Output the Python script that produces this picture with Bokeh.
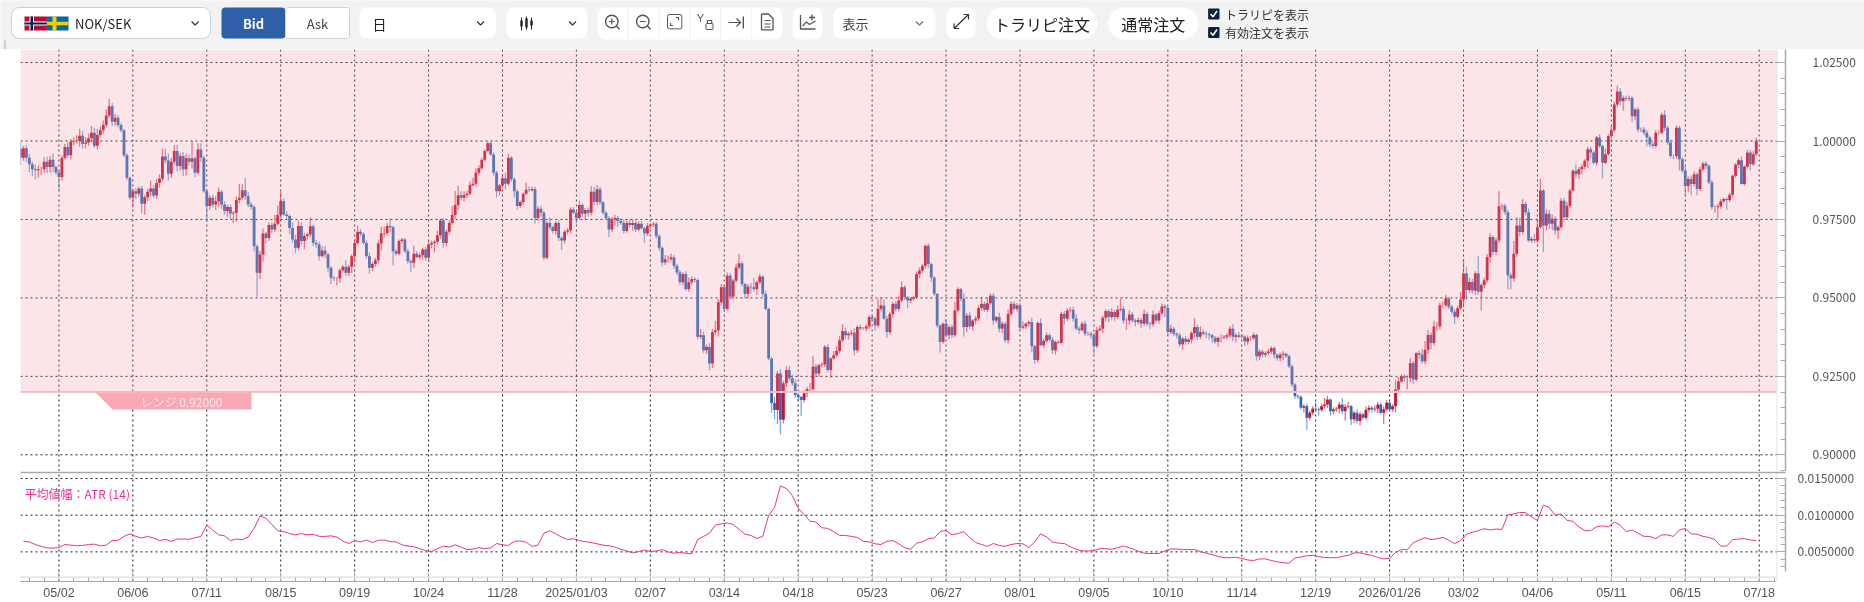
from bokeh.plotting import figure
from bokeh.layouts import column
from bokeh.models import (Range1d, LinearAxis, FixedTicker, BoxAnnotation, PolyAnnotation, Label,
                          NumeralTickFormatter, ColumnDataSource)
from bokeh.core.properties import value
from bokeh.embed import file_html
from bokeh.resources import INLINE

# ---------- data (prices in 1e-4 units, ATR in 1e-5 units); rows are gridline to gridline
first_open = 9975
close_rows = [
 [9947,9977,9947,9926,9910,9907,9910,9910,9934,9917,9940,9917,9900],
 [9885,9947,9981,9955,9998,10000,10000,10017,9991,9995,10009,10026,9985,10019,10034,10051,10081,10111,10061,10074,10051,10034,9955,9883,9819],
 [9840,9832,9849,9800,9821,9838,9849,9826,9866,9880,9951,9938,9896,9934,9968,9920,9952,9910,9945,9934,9945,9899,9973,9947,9840],
 [9793,9819,9798,9808,9838,9798,9777,9790,9769,9771,9812,9819,9843,9824,9798,9790,9665,9580,9638,9705,9691,9732,9718,9736,9764],
 [9808,9766,9761,9723,9686,9660,9729,9681,9697,9702,9728,9675,9670,9633,9651,9638,9596,9564,9562,9562,9588,9599,9580,9599,9633],
 [9675,9711,9704,9675,9633,9596,9608,9620,9673,9705,9707,9729,9725,9649,9641,9681,9686,9649,9617,9612,9641,9630,9636,9654,9628],
 [9670,9675,9679,9700,9747,9675,9711,9739,9764,9796,9827,9819,9828,9832,9860,9864,9899,9913,9940,9968,9993,9957,9899,9840,9858],
 [9881,9864,9947,9878,9840,9793,9806,9832,9845,9843,9847,9755,9784,9771,9628,9739,9725,9713,9739,9691,9683,9711,9715,9782,9771],
 [9755,9796,9768,9780,9771,9838,9806,9846,9805,9771,9755,9718,9750,9755,9745,9739,9713,9739,9732,9739,9718,9736,9722,9705,9729],
 [9734,9736,9697,9660,9613,9623,9623,9629,9602,9581,9550,9576,9528,9550,9560,9557,9376,9381,9333,9344,9291,9391,9397,9486,9534],
 [9465,9571,9504,9555,9597,9610,9544,9513,9536,9534,9528,9550,9568,9513,9465,9307,9165,9143,9259,9112,9228,9270,9244,9228,9191],
 [9184,9175,9196,9209,9209,9281,9259,9286,9288,9344,9270,9307,9317,9331,9365,9394,9381,9386,9389,9333,9407,9402,9402,9409,9439],
 [9434,9412,9465,9476,9434,9391,9449,9481,9465,9492,9534,9502,9492,9497,9502,9576,9587,9602,9666,9608,9565,9513,9412,9360,9418],
 [9381,9407,9381,9460,9528,9497,9407,9444,9409,9428,9434,9468,9481,9462,9483,9507,9428,9439,9402,9418,9365,9449,9481,9465,9476],
 [9405,9409,9418,9423,9346,9302,9420,9349,9363,9381,9367,9333,9360,9357,9449,9434,9460,9462,9434,9402,9397,9418,9386,9386,9381],
 [9346,9397,9402,9437,9458,9439,9455,9439,9462,9465,9428,9428,9447,9428,9423,9430,9418,9449,9418,9416,9447,9428,9451,9473,9468],
 [9391,9402,9386,9381,9352,9370,9360,9367,9388,9407,9376,9391,9386,9384,9381,9373,9360,9373,9373,9376,9381,9402,9376,9381,9376],
 [9377,9361,9372,9372,9382,9314,9329,9319,9324,9329,9340,9319,9308,9319,9322,9314,9282,9224,9187,9185,9150,9155,9118,9134,9147],
 [9145,9143,9155,9160,9176,9139,9145,9147,9160,9139,9153,9155,9113,9134,9108,9129,9118,9143,9150,9145,9147,9160,9134,9145,9166],
 [9145,9155,9208,9234,9250,9245,9245,9292,9240,9324,9319,9298,9335,9382,9356,9409,9409,9477,9477,9498,9472,9456,9440,9467,9495],
 [9578,9525,9551,9523,9578,9520,9541,9556,9630,9694,9646,9683,9792,9794,9773,9572,9562,9641,9731,9710,9799,9773,9683,9688,9683],
 [9725,9842,9731,9768,9736,9752,9715,9725,9810,9757,9794,9842,9905,9894,9910,9918,9937,9974,9963,9931,10011,9984,9931,9958,10016],
 [10034,10116,10158,10127,10137,10135,10137,10079,10100,10037,10037,10026,10011,9989,9984,10026,10026,10084,10042,9995,9952,9952,10042,9942,9905],
 [9857,9879,9863,9894,9847,9910,9928,9921,9868,9789,9789,9792,9808,9815,9812,9829,9889,9924,9939,9863,9918,9963,9926,9958,10000],
]
upper_wick_rows = [
 [20,8,10,12,8,15,12,8,14,16,12,20,5],
 [5,8,10,14,8,12,18,22,14,18,14,22,16,20,12,14,20,24,10,12,8,6,4,6,3],
 [8,10,6,8,6,10,25,10,12,14,24,25,22,12,18,20,10,12,14,12,55,6,20,20,6],
 [6,8,10,16,14,6,10,8,8,6,10,45,20,40,14,8,6,5,12,16,6,8,8,30,30],
 [30,8,10,5,18,15,18,12,10,6,28,6,10,10,14,15,6,5,5,5,5,6,22,6,5],
 [12,20,8,6,8,12,6,8,10,22,20,10,25,5,6,5,5,5,8,5,25,8,8,6,8],
 [12,8,5,14,5,8,6,8,28,45,30,14,12,10,12,18,14,10,5,5,5,5,6,6,5],
 [14,18,12,5,6,5,4,4,22,10,8,8,8,10,6,6,18,6,6,8,6,6,8,6,8],
 [6,14,6,6,8,18,16,14,8,4,6,5,8,10,6,10,12,8,12,10,8,8,8,5,10],
 [4,6,6,6,5,14,12,12,8,6,8,6,10,14,8,6,6,20,12,8,12,10,30,10,10],
 [8,10,8,6,12,30,8,4,8,12,30,5,8,4,10,4,4,20,8,14,8,12,14,12,12],
 [8,5,8,8,20,35,8,4,6,6,8,4,14,15,14,22,10,6,8,14,6,8,5,6,6],
 [8,6,32,26,20,8,6,6,8,14,18,6,4,4,4,8,10,6,4,8,4,4,2,4,4],
 [14,6,8,28,6,4,18,8,10,4,8,8,22,8,18,8,8,4,14,8,6,14,8,8,8],
 [8,16,4,5,14,5,6,14,8,8,6,8,4,5,6,10,8,8,10,14,8,8,10,6,8],
 [8,10,10,6,6,6,12,8,14,32,8,8,14,8,6,8,6,14,8,6,14,6,8,8,6],
 [5,12,6,4,8,6,8,5,6,28,8,18,8,8,6,4,6,4,10,6,6,8,14,6,10],
 [8,4,8,6,8,4,8,6,6,8,6,6,4,6,8,4,6,5,4,6,4,6,8,6,8],
 [20,6,8,22,12,4,6,6,8,20,8,14,4,6,10,8,5,12,8,6,10,8,6,10,8],
 [4,6,30,14,6,8,8,16,6,4,8,18,28,16,8,18,14,8,12,12,6,6,8,8,24],
 [45,20,14,10,8,56,6,8,10,12,6,8,48,6,6,8,8,40,26,25,15,8,12,8,16],
 [22,38,4,14,12,14,8,6,8,8,12,6,6,20,8,8,5,8,8,6,5,10,5,18,6],
 [12,10,19,10,8,8,8,6,6,8,6,8,8,6,8,8,8,6,14,6,10,6,8,6,6],
 [14,8,10,10,6,8,6,8,4,8,6,8,6,4,6,6,4,6,6,12,5,8,8,10,10],
]
lower_wick_rows = [
 [22,10,14,25,22,30,25,18,12,20,18,16,8],
 [40,12,6,10,14,12,8,18,16,14,10,14,8,12,8,10,8,8,14,12,8,6,6,8,6],
 [30,18,10,30,35,12,14,8,10,14,8,10,22,14,8,18,14,22,20,12,22,14,6,14,5],
 [50,12,10,18,18,14,12,20,20,30,28,10,8,12,8,8,16,76,20,22,18,10,12,8,6],
 [12,4,8,20,10,18,8,12,26,12,8,10,12,14,4,12,14,20,8,22,14,8,10,10,20],
 [20,6,8,6,8,18,10,8,10,22,12,8,15,45,6,6,8,6,8,30,16,4,8,14,10],
 [14,12,30,8,12,15,10,8,6,12,15,8,12,10,6,6,10,8,5,6,5,5,10,20,12],
 [8,18,6,8,20,12,6,8,4,4,4,18,8,12,8,6,8,8,12,10,30,10,10,8,4],
 [18,6,10,20,12,8,10,10,8,6,6,24,8,20,18,6,8,5,8,18,8,5,5,30,8],
 [8,8,8,10,12,8,10,8,10,8,10,8,6,8,8,8,8,8,8,12,22,14,8,20,10],
 [10,6,10,8,6,6,8,14,14,20,8,18,6,10,5,6,30,30,45,47,12,12,8,8,8],
 [10,52,8,12,6,4,8,10,8,8,8,25,6,6,8,6,12,14,8,16,8,6,4,8,8],
 [6,16,6,8,4,18,8,12,8,8,5,8,25,8,6,5,14,8,8,12,14,6,6,34,6],
 [6,12,8,6,6,8,30,16,8,14,12,8,8,6,8,4,14,8,12,14,8,10,8,8,8],
 [8,5,8,8,20,12,8,4,8,6,6,12,14,4,6,18,8,6,10,6,12,4,8,8,10],
 [24,6,4,14,12,16,8,12,6,6,10,30,14,6,14,8,14,8,8,16,8,8,10,6,30],
 [10,6,8,10,8,18,10,8,12,14,10,8,6,12,14,16,6,16,14,4,8,8,14,18,4],
 [5,14,10,8,6,14,12,10,8,6,8,12,8,10,18,5,6,8,8,6,6,14,38,8,6],
 [8,18,6,8,10,14,10,8,14,8,30,6,18,12,8,14,6,6,8,10,8,14,6,36,6],
 [5,8,20,6,6,12,36,14,14,6,14,8,10,14,20,8,14,10,10,6,8,8,22,6,6],
 [25,30,8,10,14,10,60,10,8,18,10,10,8,12,8,45,35,10,10,14,8,10,6,8,8],
 [8,4,85,16,16,20,14,28,6,14,6,8,6,12,14,16,8,22,18,6,10,6,50,4,4],
 [8,6,6,12,30,8,8,18,12,10,8,8,28,10,8,6,6,4,10,8,6,10,8,36,6],
 [28,20,36,8,20,6,6,10,6,8,18,36,8,6,32,6,8,6,10,2,6,6,20,6,5],
]
# ATR is read every second bar, starting at bar 1
atr_values = [
 645,636,601,575,553,553,557,601,592,583, 588,601,605,583,592,654,658,711,746,711,
 689,711,689,654,671,645,675,675,671,693, 711,864,798,732,719,654,675,667,702,820,
 987,960,873,789,776,750,732,750,732,741, 711,711,719,702,645,614,654,636,662,627,
 658,662,640,636,596,579,570,544,518,504, 544,579,566,596,566,531,539,557,544,553,
 614,596,588,645,649,632,575,592,754,789, 746,702,667,680,654,640,627,610,592,583,
 566,535,513,487,504,526,504,513,531,500, 482,491,482,474,667,711,754,864,882,895,
 873,807,741,724,684,711,996,1105,1399,1364, 1268,1097,1009,917,908,829,820,776,724,724,
 711,697,645,636,610,601,645,654,610,557, 535,618,636,680,689,
 776,794,732,750,776,697,627,601,575,614, 588,575,601,614,610,557,636,746,702,636,
 618,614,570,535,513,513,518,544,544,535, 557,579,557,526,491,478,478,478,513,539,
 539,531,531,531,504,482,461,439,421,421, 425,412,390,382,404,404,382,364,351,346,
 417,430,447,452,434,425,421,421,439,452, 487,487,465,452,425,404,412,491,531,531,
 623,662,693,667,680,697,658,614,654,741, 768,789,816,798,811,807,1004,1018,1039,1035,
 974,930,1136,1105,996,1018,930,917,842,789, 789,842,855,842,908,864,776,798,754,711,
 711,680,732,732,711,798,820,746,741,711, 697,667,579,579,667,675,680,662,654,
]
date_labels = ["05/02","06/06","07/11","08/15","09/19","10/24","11/28","2025/01/03","02/07","03/14",
               "04/18","05/23","06/27","08/01","09/05","10/10","11/14","12/19","2026/01/26","03/02",
               "04/06","05/11","06/15","07/18"]
price_ticks = [1.025, 1.0, 0.975, 0.95, 0.925, 0.9]
atr_ticks = [0.015, 0.01, 0.005]
range_level = 0.92
range_text = "レンジ 0.92000"
atr_title = "平均値幅：ATR (14)"
pair_name = "NOK/SEK"

for rows in (close_rows, upper_wick_rows, lower_wick_rows):
    for k, r in enumerate(rows):
        assert len(r) == (13 if k == 0 else 25), (k, len(r))
assert len(atr_values) == 294, len(atr_values)

close = [v / 1e4 for r in close_rows for v in r]
upper = [v / 1e4 for r in upper_wick_rows for v in r]
lower = [v / 1e4 for r in lower_wick_rows for v in r]
opens = [first_open / 1e4] + close[:-1]
idx = list(range(len(close)))
top = [max(o, c) for o, c in zip(opens, close)]
bot = [min(o, c) for o, c in zip(opens, close)]
high = [t + u for t, u in zip(top, upper)]
low = [b - d for b, d in zip(bot, lower)]
RED, BLUE = "#c9102f", "#2a6ab8"
colors = [RED if c >= o else BLUE for o, c in zip(opens, close)]
src = ColumnDataSource(dict(x=idx, top=top, bot=bot, high=high, low=low, color=colors))

major_ticks = [13 + 25 * k for k in range(len(date_labels))]
minor_ticks = list(range(-2, 594, 5))
overrides = {t: s for t, s in zip(major_ticks, date_labels)}

FONT = "Noto Sans CJK JP"
BG = "#f2f2f2"
TXT = "#555555"
DOT = "#1e1e1e"
BAR_PX = 2.957
x_range = Range1d(0, 1765 / BAR_PX)
X_PANE_END = (1776 - 20) / BAR_PX


def canvas_box(p, l, r, t, b, color, level="underlay"):
    p.add_layout(BoxAnnotation(left=l, right=r, top=t, bottom=b, left_units="canvas", right_units="canvas",
                               top_units="canvas", bottom_units="canvas", fill_color=color, fill_alpha=1,
                               line_alpha=0, level=level))


def strips(p, h):
    canvas_box(p, 0, 20, 0, h, BG)
    canvas_box(p, 1861, 1864, 0, h, BG)
    canvas_box(p, 3.5, 5.5, 0, h, "#cccccc")
    canvas_box(p, 1776, 1777, 0, h, "#e4e4e4")


def base_fig(h, y_range, bottom):
    p = figure(width=1864, height=h, x_range=x_range, y_range=y_range, output_backend="svg", toolbar_location=None,
               x_axis_location=None, y_axis_location=None, min_border_left=20, min_border_right=79,
               min_border_top=0, min_border_bottom=bottom, border_fill_color="#ffffff", background_fill_color="#ffffff",
               outline_line_color=None)
    p.grid.visible = False
    return p


def grids(p, ticks):
    p.segment(x0=[x_range.start] * len(ticks), x1=[X_PANE_END] * len(ticks), y0=ticks, y1=ticks,
              line_color=DOT, line_width=1, line_dash="2 3")
    p.segment(x0=major_ticks, x1=major_ticks, y0=[p.y_range.start] * len(major_ticks),
              y1=[p.y_range.end] * len(major_ticks), line_color=DOT, line_width=1, line_dash="2 3")


# ---------- main pane (49..471 on the page)
main = base_fig(422, Range1d(0.89468, 1.02916), 0)
strips(main, 422)
grids(main, price_ticks)
main.segment("x", "low", "x", "high", source=src, line_color="color", line_width=1.3, line_alpha=0.6)
main.vbar("x", 0.95, "top", "bot", source=src, fill_color="color", line_color=None)
main.add_layout(BoxAnnotation(bottom=range_level, right=X_PANE_END, fill_color="#f399a4", fill_alpha=0.25,
                              line_alpha=0, level="overlay"))
main.segment(x0=[x_range.start], x1=[X_PANE_END], y0=[range_level], y1=[range_level],
             line_color="#f8c3cd", line_width=2)
main.add_layout(PolyAnnotation(xs=[95, 251, 251, 112], ys=[343, 343, 360, 360], xs_units="canvas", ys_units="canvas",
                               fill_color="#f9a8b6", fill_alpha=1, line_alpha=0, level="overlay"))
main.add_layout(Label(x=140, y=351.5, x_units="canvas", y_units="canvas", text=range_text, text_font=FONT,
                      text_font_size="12px", text_color="#fce6ea", text_baseline="middle", level="overlay"))
main.add_layout(Label(x=10, y=5, x_units="canvas", y_units="canvas", text="»", text_font="DejaVu Sans",
                      text_font_size="11px", text_color="#666666", text_baseline="middle"))
ax = LinearAxis(ticker=FixedTicker(ticks=price_ticks, minor_ticks=[round(0.89 + 0.005 * k, 3) for k in range(29)]),
                formatter=NumeralTickFormatter(format="0.00000"), major_tick_in=9, major_tick_out=0, minor_tick_in=5,
                minor_tick_out=0, major_label_standoff=27, major_label_text_font=FONT, major_label_text_font_size="12px",
                major_label_text_color=TXT, axis_line_color="#aaaaaa", major_tick_line_color="#aaaaaa",
                minor_tick_line_color="#aaaaaa", axis_line_width=1.5)
main.add_layout(ax, "right")

# ---------- ATR pane (471..602 on the page)
atr = base_fig(131, Range1d(0.00096, 0.015961), 16)
strips(atr, 131)
grids(atr, atr_ticks)
atr.line([1 + 2 * k for k in range(len(atr_values))], [v / 1e5 for v in atr_values], line_color="#ee3090", line_width=1)
atr.add_layout(Label(x=24, y=21.7, x_units="canvas", y_units="canvas", text=atr_title, text_font=FONT,
                     text_font_size="12px", text_color="#ee3090", text_baseline="middle"))
canvas_box(atr, 20, 1775, 105, 106.5, "#e2e2e2", "overlay")
canvas_box(atr, 20, 1861, 0, 1.8, "#aaaaaa", "overlay")
ay = LinearAxis(ticker=FixedTicker(ticks=atr_ticks, minor_ticks=[k / 1000 for k in range(3, 16)]), bounds=(0.0023, 0.0152),
                formatter=NumeralTickFormatter(format="0.0000000"), major_tick_in=9, major_tick_out=0, minor_tick_in=5,
                minor_tick_out=0, major_label_standoff=12, major_label_text_font=FONT, major_label_text_font_size="12px",
                major_label_text_color=TXT, axis_line_color="#aaaaaa", major_tick_line_color="#aaaaaa",
                minor_tick_line_color="#aaaaaa", axis_line_width=1.5)
atr.add_layout(ay, "right")
bx = LinearAxis(ticker=FixedTicker(ticks=major_ticks, minor_ticks=minor_ticks), bounds=(0, (1775 - 20) / BAR_PX),
                major_label_overrides=overrides, major_tick_in=9, major_tick_out=0, minor_tick_in=5, minor_tick_out=0,
                major_label_standoff=4, major_label_text_font="Liberation Sans", major_label_text_font_size="12.5px",
                major_label_text_color=TXT, axis_line_color="#aaaaaa", major_tick_line_color="#aaaaaa",
                minor_tick_line_color="#aaaaaa")
atr.add_layout(bx, "below")

# ---------- header (interface strip, drawn in pixel coordinates)
bar = figure(width=1864, height=49, x_range=Range1d(0, 1864), y_range=Range1d(49, 0), output_backend="svg",
             toolbar_location=None, x_axis_location=None, y_axis_location=None, min_border=0,
             border_fill_color=BG, background_fill_color=BG, outline_line_color=None)
bar.grid.visible = False
bar.frame_align = False


def box(l, r, t, b, fill="#ffffff", line=None, radius=8):
    bar.quad(left=[l], right=[r], top=[t], bottom=[b], fill_color=fill, line_color=line, border_radius=radius)


def txt(x, y, s, size="13px", color="#333333", align="left", style="normal", font=FONT):
    bar.text(x=[x], y=[y], text=[s], text_font=value(font), text_font_size=value(size), text_color=color,
             text_align=align, text_baseline="middle", text_font_style=style)


def stroke(xs, ys, color="#555555", w=1.3):
    bar.line(xs, ys, line_color=color, line_width=w)


def chev(x, y=23, color="#333333"):
    stroke([x - 3.5, x, x + 3.5], [y - 2, y + 1.5, y - 2], color, 1.2)


box(11, 210, 7, 38, line="#cfcfcf")
box(24, 46.4, 16, 30, "#ba0c2f", radius=0)
box(29, 33.5, 16, 30, "#ffffff", radius=0)
box(24, 46.4, 21, 25, "#ffffff", radius=0)
box(30, 32.5, 16, 30, "#00205b", radius=0)
box(24, 46.4, 22, 24, "#00205b", radius=0)
box(46.4, 68, 16, 30, "#006aa7", radius=0)
box(52, 56, 16, 30, "#fecc00", radius=0)
box(46.4, 68, 21.2, 24.8, "#fecc00", radius=0)
txt(74.5, 23, pair_name, "13px", "#222222")
chev(194.6)
box(221, 285, 7, 38, "#2f5fa8", radius=4)
box(285, 349, 7, 38, "#ffffff", "#d4d4d4", radius=2)
txt(253, 23, "Bid", "13px", "#ffffff", "center", "bold")
txt(317, 23, "Ask", "13px", "#444444", "center")
box(359, 495.5, 7, 38)
txt(372, 23, "日", "14px", "#222222")
chev(480)
box(506, 587, 7, 38)
for cx, t, b, st, sb in [(521, 20, 26, 17, 30), (526, 18, 27, 16, 29), (531, 20, 25, 17, 29)]:
    stroke([cx, cx], [st, sb], "#222222", 1)
    box(cx - 1.2, cx + 1.2, t, b, "#222222", radius=0)
chev(572)
box(597, 782, 7, 39)
for sx in [627.7, 658.7, 689.3, 720.3, 751.3]:
    stroke([sx, sx], [7, 39], "#f0f0f0", 1)
for cx in [611.3, 642.3]:
    bar.circle(x=[cx], y=[21], radius=6.2, fill_color=None, line_color="#555555", line_width=1.4)
    stroke([cx + 4.6, cx + 7.8], [25.6, 28.8], "#555555", 1.4)
    stroke([cx - 3, cx + 3], [21, 21], "#555555", 1.2)
stroke([611.3, 611.3], [18, 24], "#555555", 1.2)
box(667, 681.3, 14, 28.4, None, "#555555", radius=2)
stroke([670, 670, 672.5], [22.5, 25, 25], "#555555", 1.2)
stroke([675.5, 678, 678], [17, 17, 19.5], "#555555", 1.2)
txt(700, 17, "Y", "11px", "#555555", "center", font="Liberation Sans")
box(705.5, 712.5, 23, 29, None, "#555555", radius=1)
stroke([706.8, 706.8, 711.2, 711.2], [23, 20, 20, 23], "#555555", 1.1)
stroke([728, 740], [22, 22], "#555555", 1.2)
stroke([736, 740, 736], [18, 22, 26], "#555555", 1.2)
stroke([742.8, 742.8], [16, 28], "#555555", 1.4)
stroke([761, 768, 772.5, 772.5, 761, 761], [13.5, 13.5, 18, 29.3, 29.3, 13.5], "#555555", 1.3)
for yy in [20, 23.5, 26.5]:
    stroke([764, 770], [yy, yy], "#555555", 1)
box(792, 822, 7, 39)
stroke([800, 800, 815], [14.5, 28.5, 28.5], "#555555", 1.3)
stroke([802, 806, 809, 815], [25.5, 21.5, 24, 20.5], "#555555", 1.2)
stroke([808.5, 814.5], [17, 17], "#555555", 1.3)
stroke([811.5, 811.5], [14, 20], "#555555", 1.3)
box(832.6, 935, 7, 38)
txt(842, 23, "表示", "13px", "#444444")
chev(919, color="#777777")
box(946, 975, 7, 38)
stroke([953.6, 968], [28, 14], "#333333", 1.2)
stroke([963, 968, 968], [14, 14, 19], "#333333", 1.2)
stroke([953.6, 953.6, 958.6], [23, 28, 28], "#333333", 1.2)
box(986, 1097, 7, 39, radius=16)
txt(1041.5, 23, "トラリピ注文", "16px", "#222222", "center")
box(1107.6, 1198, 7, 39, radius=16)
txt(1152.8, 23, "通常注文", "16px", "#222222", "center")
for yy, s in [(13.5, "トラリピを表示"), (32, "有効注文を表示")]:
    box(1207.6, 1219, yy - 5.5, yy + 5.5, "#0c2340", radius=1)
    stroke([1210, 1212.5, 1216.5], [yy, yy + 2.8, yy - 3], "#ffffff", 1.5)
    txt(1224.6, yy, s, "12px", "#333333")
box(3.5, 5.5, 40, 49, "#cccccc", radius=0)

page = column(bar, main, atr, spacing=0)
page.styles = {"position": "fixed", "left": "0", "top": "0"}
open("out.html", "w").write(file_html(page, INLINE))
